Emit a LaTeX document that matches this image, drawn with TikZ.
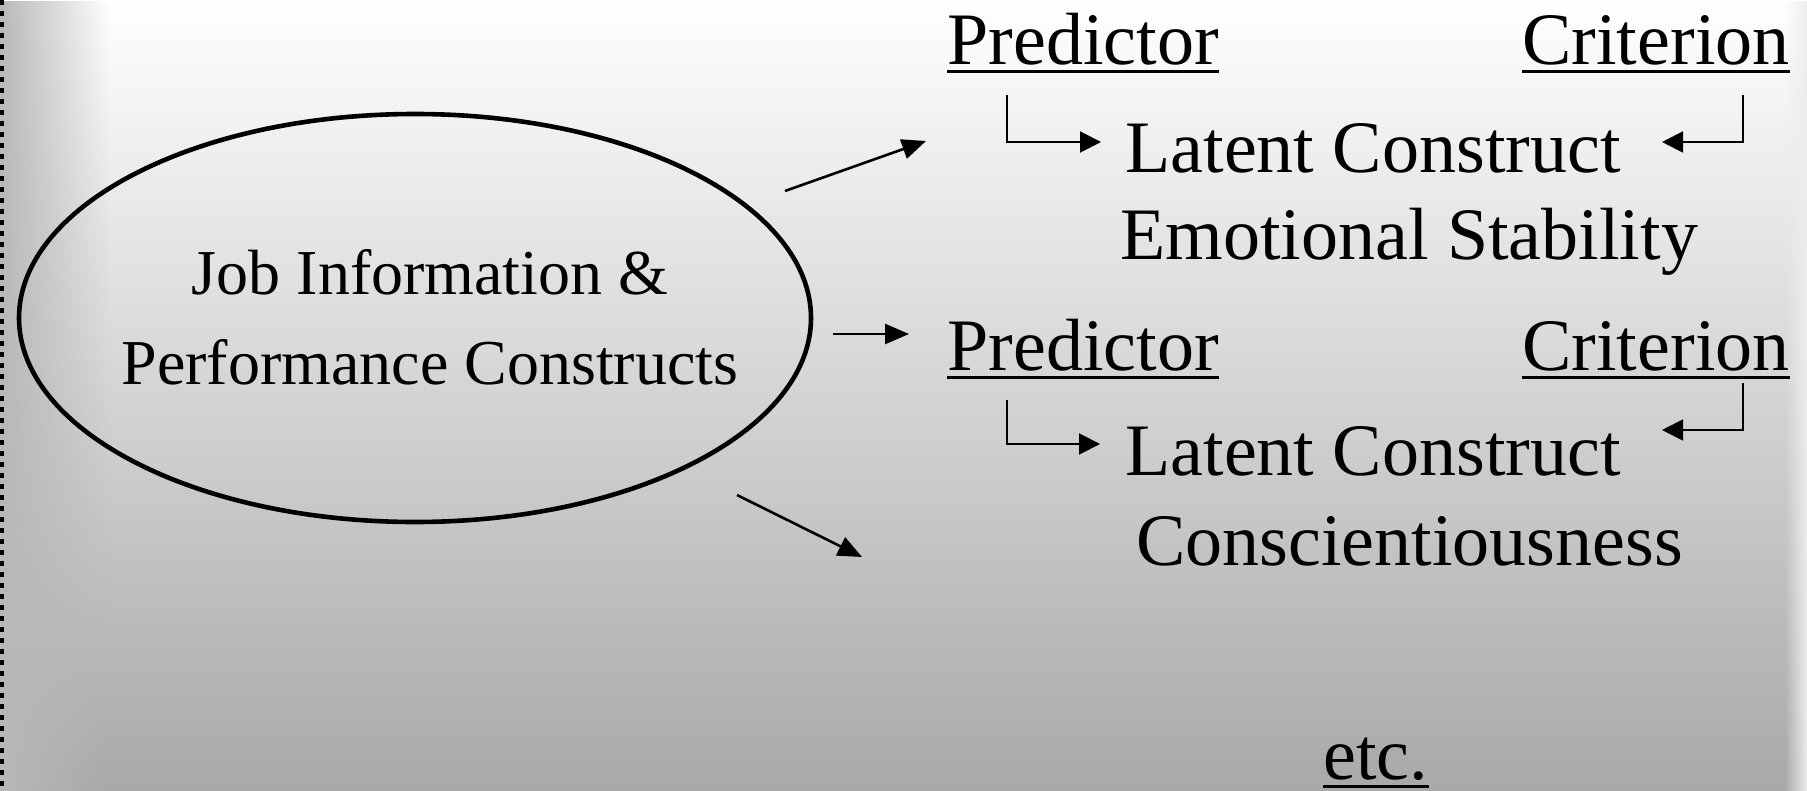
\documentclass[tikz,border=0pt]{standalone}
\usepackage{fontspec}
\setmainfont{Liberation Serif}
\usetikzlibrary{shapes.geometric,arrows.meta,fadings}
\tikzfading[name=leftstrip, left color=transparent!0, right color=transparent!100]
\tikzfading[name=rightstrip, left color=transparent!100, right color=transparent!0]
\begin{document}
\begin{tikzpicture}[
  x=0.5pt, y=-0.5pt,
  bigtxt/.style={font=\fontsize{37}{44}\selectfont, inner sep=0pt, anchor=base west},
  ovaltxt/.style={font=\fontsize{32}{40}\selectfont, inner sep=0pt, anchor=base},
  oval/.style={ellipse, draw=black, line width=2.3pt, minimum width=396pt, minimum height=204pt, inner sep=0pt},
  feed/.style={line width=1.3pt, -{Triangle[length=12pt,width=10pt]}},
  elbow/.style={line width=1pt, -{Triangle[length=10.5pt,width=10.5pt]}},
  uline/.style={line width=1.5pt}
]
  \useasboundingbox (0,0) rectangle (1807,791);

  % Fondo degradado
  \shade[top color=white, bottom color=black!34] (0,0) rectangle (1807,791);
  \fill[black!28, path fading=leftstrip] (0,0) rectangle (110,791);
  \fill[black!7, path fading=rightstrip] (1785,0) rectangle (1807,791);
  \draw[line width=2pt, dash pattern=on 2.5pt off 3pt] (2,0) -- (2,791);

  % Elipse de la izquierda
  \node[oval] (jobinfo) at (415,318) {};
  \node[ovaltxt] (job1) at (430,294) {Job Information \&};
  \node[ovaltxt] (job2) at (430,384) {Performance Constructs};

  % Bloques de la derecha
  \node[bigtxt] (pred1) at (947,65) {Predictor};
  \node[bigtxt] (crit1) at (1522,65) {Criterion};
  \node[bigtxt] (lat1) at (1125,173) {Latent Construct};
  \node[bigtxt] (emot) at (1120,259) {Emotional Stability};
  \node[bigtxt] (pred2) at (947,370) {Predictor};
  \node[bigtxt] (crit2) at (1522,370) {Criterion};
  \node[bigtxt] (lat2) at (1125,475) {Latent Construct};
  \node[bigtxt] (consc) at (1136,565) {Conscientiousness};
  \node[bigtxt] (etc) at (1323,779) {etc.};

  % Subrayados
  \foreach \n in {pred1,crit1,pred2,crit2,etc}
    \draw[uline] ([yshift=-3.5pt]\n.base west) -- ([yshift=-3.5pt]\n.base east);

  % Flechas desde la elipse
  \coordinate (f1s) at (785,191);
  \coordinate (f1e) at (926,141);
  \coordinate (f2s) at (833,334);
  \coordinate (f2e) at (909,334);
  \coordinate (f3s) at (737,495);
  \coordinate (f3e) at (862,557);
  \draw[feed] (f1s) -- (f1e);
  \draw[feed] (f2s) -- (f2e);
  \draw[feed] (f3s) -- (f3e);

  % Flechas en codo
  \coordinate (pl1) at (1007,95);
  \coordinate (pl1e) at (1101,142);
  \coordinate (cr1) at (1743,95);
  \coordinate (cr1e) at (1662,142);
  \coordinate (pl2) at (1007,400);
  \coordinate (pl2e) at (1100,444);
  \coordinate (cr2) at (1743,383);
  \coordinate (cr2e) at (1662,430);
  \draw[elbow] (pl1) |- (pl1e);
  \draw[elbow] (cr1) |- (cr1e);
  \draw[elbow] (pl2) |- (pl2e);
  \draw[elbow] (cr2) |- (cr2e);
\end{tikzpicture}
\end{document}
